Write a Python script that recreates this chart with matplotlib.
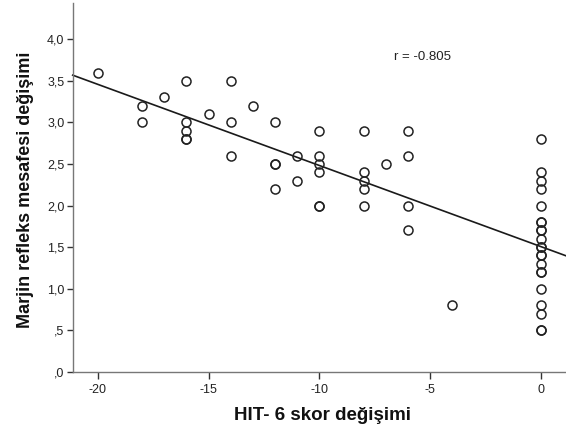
import numpy as np
import matplotlib
matplotlib.use("Agg")
import matplotlib.pyplot as plt
from matplotlib.ticker import FixedLocator, FixedFormatter

plt.rcParams['font.family'] = ['Liberation Sans', 'DejaVu Sans']

# HIT-6 score change (x) and marginal reflex distance change (y)
hit6_change = [-20,
               -18, -18,
               -17,
               -16, -16, -16, -16, -16,
               -15,
               -14, -14, -14,
               -13,
               -12, -12, -12, -12,
               -11, -11,
               -10, -10, -10, -10, -10, -10,
               -8, -8, -8, -8, -8,
               -7,
               -6, -6, -6, -6,
               -4,
               0, 0, 0, 0, 0, 0, 0, 0, 0, 0, 0, 0, 0, 0, 0, 0, 0, 0, 0, 0, 0, 0]
mrd_change = [3.6,
              3.2, 3.0,
              3.3,
              3.5, 3.0, 2.9, 2.8, 2.8,
              3.1,
              3.5, 3.0, 2.6,
              3.2,
              3.0, 2.5, 2.5, 2.2,
              2.6, 2.3,
              2.9, 2.6, 2.5, 2.4, 2.0, 2.0,
              2.9, 2.4, 2.3, 2.2, 2.0,
              2.5,
              2.9, 2.6, 2.0, 1.7,
              0.8,
              2.8, 2.4, 2.3, 2.2, 2.0, 1.8, 1.8, 1.7, 1.7, 1.6, 1.5, 1.5,
              1.4, 1.4, 1.3, 1.2, 1.2, 1.0, 0.8, 0.7, 0.5, 0.5]

x_ticks = [-20, -15, -10, -5, 0]
x_tick_labels = ['-20', '-15', '-10', '-5', '0']
y_ticks = [0.0, 0.5, 1.0, 1.5, 2.0, 2.5, 3.0, 3.5, 4.0]
y_tick_labels = [',0', ',5', '1,0', '1,5', '2,0', '2,5', '3,0', '3,5', '4,0']
r_text = 'r = -0.805'
x_label = 'HIT- 6 skor değişimi'
y_label = 'Marjin refleks mesafesi değişimi'

W, H = 566, 432
fig = plt.figure(figsize=(W / 100, H / 100), dpi=100)
fig.patch.set_facecolor('white')

left_px, bottom_px, top_px = 72.7, 371.7, 3.0
ax = fig.add_axes([left_px / W, (H - bottom_px) / H,
                   (W - left_px) / W, (bottom_px - top_px) / H])
ax.set_xlim(-21.13, 1.13)
ax.set_ylim(0, 4.437)

x = np.array(hit6_change, dtype=float)
y = np.array(mrd_change, dtype=float)
slope, intercept = np.polyfit(x, y, 1)
xl = np.array(ax.get_xlim())
ax.plot(xl, intercept + slope * xl, color='#1a1a1a', lw=1.2, zorder=2,
        clip_on=False)

ax.plot(x, y, linestyle='none', marker='o', ms=6.5, mfc='none',
        mec='#222222', mew=1.1, zorder=3)

for s in ['top', 'right']:
    ax.spines[s].set_visible(False)
for s in ['left', 'bottom']:
    ax.spines[s].set_color('#777777')
    ax.spines[s].set_linewidth(1.0)

ax.xaxis.set_major_locator(FixedLocator(x_ticks))
ax.xaxis.set_major_formatter(FixedFormatter(x_tick_labels))
ax.yaxis.set_major_locator(FixedLocator(y_ticks))
ax.yaxis.set_major_formatter(FixedFormatter(y_tick_labels))
ax.tick_params(axis='x', direction='out', length=5, width=1.0, color='#333333',
               labelsize=9, pad=4, labelcolor='#222222')
ax.tick_params(axis='y', direction='out', length=4, width=1.0, color='#333333',
               labelsize=9, pad=2, labelcolor='#222222')

fig.text(394 / W, (H - 56.7) / H, r_text, fontsize=9.5, ha='left', va='center',
         color='#222222')
fig.text(323 / W, (H - 415.7) / H, x_label, fontsize=13.5, fontweight='bold',
         ha='center', va='center', color='#111111')
fig.text(26 / W, (H - 190) / H, y_label, fontsize=13, fontweight='bold',
         ha='center', va='center', rotation=90, color='#111111')

fig.savefig('out.png', dpi=100, facecolor='white')
